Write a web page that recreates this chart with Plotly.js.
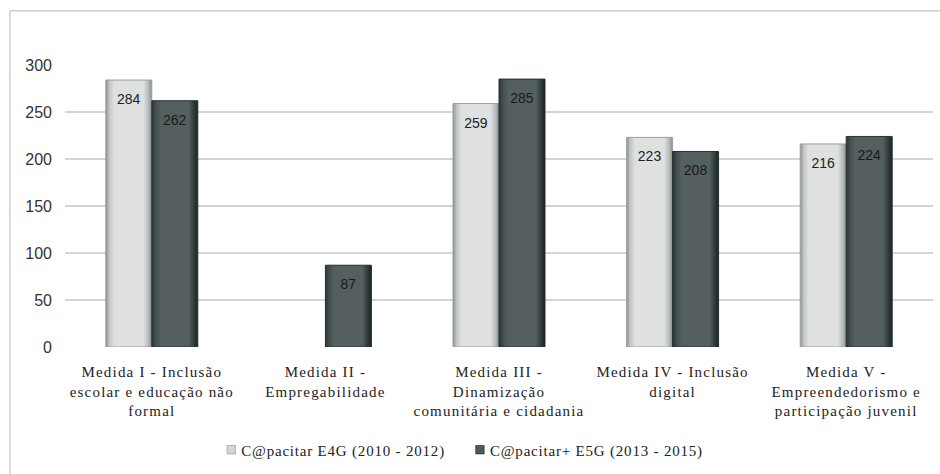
<!DOCTYPE html>
<html>
<head>
<meta charset="utf-8">
<script src="https://cdn.plot.ly/plotly-3.0.1.min.js"></script>
<style>
html,body{margin:0;padding:0;background:#fff}
#chart{width:940px;height:474px}
.xtick text{letter-spacing:1.2px}
.legendtext{letter-spacing:0.8px}
</style>
</head>
<body>
<div id="chart"></div>
<script>
const categories = [
  "Medida I - Inclusão<br>escolar e educação não<br>formal",
  "Medida II -<br>Empregabilidade",
  "Medida III -<br>Dinamização<br>comunitária e cidadania",
  "Medida IV - Inclusão<br>digital",
  "Medida V -<br>Empreendedorismo e<br>participação juvenil"
];
const seriesNames = ["C@pacitar E4G (2010 - 2012)", "C@pacitar+ E5G (2013 - 2015)"];
const valuesE4G = [284, null, 259, 223, 216];
const valuesE5G = [262, 87, 285, 208, 224];
const yTicks = [0, 50, 100, 150, 200, 250, 300];

const SERIF_FONT = "Liberation Serif";
const SANS_FONT = "Liberation Sans";

function labels(arr){ return arr.map(v => v === null ? "" : String(v)); }

const traces = [
  {type:"bar", name:seriesNames[0], x:categories, y:valuesE4G, text:labels(valuesE4G),
   textposition:"inside", insidetextanchor:"end", constraintext:"none",
   textfont:{family:SANS_FONT, size:14, color:"#222"},
   marker:{color:"#d4d6d6", line:{color:"#9a9e9e", width:1}}, hoverinfo:"y"},
  {type:"bar", name:seriesNames[1], x:categories, y:valuesE5G, text:labels(valuesE5G),
   textposition:"inside", insidetextanchor:"end", constraintext:"none",
   textfont:{family:SANS_FONT, size:14, color:"#1a1a1a"},
   marker:{color:"#4f5a5a", line:{color:"#263030", width:1}}, hoverinfo:"y"}
];

const layout = {
  width:940, height:474,
  font:{family:SERIF_FONT, size:15, color:"#222"},
  margin:{l:65, r:7, t:65, b:124},
  paper_bgcolor:"#fff", plot_bgcolor:"#fff",
  barmode:"group", bargap:0.47, bargroupgap:0,
  showlegend:true,
  legend:{orientation:"h", x:0.449, xanchor:"center", y:-0.365, yanchor:"middle",
          font:{family:SERIF_FONT, size:15, color:"#222"}, itemwidth:30, tracegroupgap:0},
  xaxis:{type:"category", tickfont:{family:SERIF_FONT, size:15, color:"#222"},
         showgrid:false, zeroline:false, showline:false, ticks:"", ticklabelstandoff:14},
  yaxis:{range:[0,300], tickvals:yTicks, ticktext:yTicks.map(String),
         tickfont:{family:SANS_FONT, size:16, color:"#333"},
         showgrid:true, gridcolor:"#d4d4d4", gridwidth:1.5, zeroline:false,
         showline:false, ticks:"", ticklabelstandoff:12},
  shapes:[
    {type:"line", xref:"paper", yref:"paper", x0:-0.0635, x1:1.01, y0:1.192, y1:1.192,
     line:{color:"#cfcfcf", width:1.5}},
    {type:"line", xref:"paper", yref:"paper", x0:-0.0635, x1:-0.0635, y0:1.192, y1:-0.6,
     line:{color:"#cfcfcf", width:1.5}}
  ]
};

Plotly.newPlot("chart", traces, layout, {displayModeBar:false}).then(gd => {
  const svg = gd.querySelector("svg.main-svg");
  const ns = "http://www.w3.org/2000/svg";
  let defs = svg.querySelector("defs");
  if(!defs){ defs = document.createElementNS(ns,"defs"); svg.insertBefore(defs, svg.firstChild); }
  function grad(id, stops){
    const g = document.createElementNS(ns,"linearGradient");
    g.setAttribute("id", id);
    g.setAttribute("x1","0"); g.setAttribute("x2","1"); g.setAttribute("y1","0"); g.setAttribute("y2","0");
    stops.forEach(([o,c]) => {
      const s = document.createElementNS(ns,"stop");
      s.setAttribute("offset", o); s.setAttribute("stop-color", c);
      g.appendChild(s);
    });
    defs.appendChild(g);
  }
  grad("gL", [["0","#8e9292"],["0.08","#c3c6c6"],["0.18","#dfe0e0"],["0.82","#dfe0e0"],["0.92","#b8bcbc"],["1","#8a8e8e"]]);
  grad("gD", [["0","#2c3636"],["0.1","#465151"],["0.2","#555f5f"],["0.8","#555f5f"],["0.92","#2f3a3a"],["1","#1a2424"]]);
  const traceGroups = gd.querySelectorAll(".barlayer .trace");
  traceGroups.forEach((t,i) => {
    t.querySelectorAll("path").forEach(p => { p.style.fill = i === 0 ? "url(#gL)" : "url(#gD)"; });
    t.querySelectorAll("text").forEach(tx => {
      const old = tx.getAttribute("transform") || "";
      tx.setAttribute("transform", "translate(0,8) " + old);
    });
  });
  gd.querySelectorAll(".legend .legendpoints path").forEach(p => {
    const old = p.getAttribute("transform") || "";
    p.setAttribute("transform", old + " translate(10,0) scale(0.7)");
  });
});
</script>
</body>
</html>
